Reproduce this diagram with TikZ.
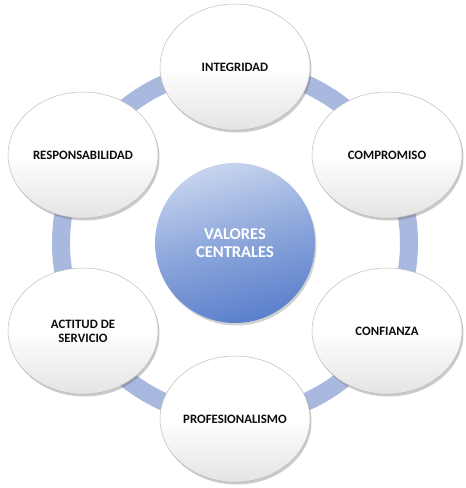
\documentclass[tikz,border=0pt]{standalone}
\usepackage{fontspec}
\setmainfont{Carlito}
\usetikzlibrary{shapes.geometric,shadows}
\definecolor{ringc}{HTML}{A9B8DE}
\definecolor{centtop}{HTML}{C6D4EE}
\definecolor{centmid}{HTML}{8CA6DB}
\definecolor{centbot}{HTML}{5A7FCC}
\definecolor{ellbot}{HTML}{E4E4E4}
\definecolor{ellline}{HTML}{BDBDBD}
\begin{document}
\begin{tikzpicture}[x=1pt,y=1pt,
  valor/.style={ellipse, minimum width=150pt, minimum height=126pt, inner sep=0pt,
    top color=white, bottom color=ellbot, middle color=white,
    draw=ellline, line width=0.5pt,
    drop shadow={shadow xshift=1.5pt, shadow yshift=-2.5pt, opacity=0.35, fill=black!60},
    font=\bfseries\fontsize{12.8}{14}\selectfont, text=black!95, align=center},
  centro/.style={circle, minimum size=160pt, inner sep=0pt,
    top color=centtop, bottom color=centbot, middle color=centmid, shading angle=15,
    drop shadow={shadow xshift=1.5pt, shadow yshift=-2.5pt, opacity=0.3, fill=black!60},
    font=\bfseries\fontsize{16.5}{17.5}\selectfont, text=white, align=center},
  anillo/.style={draw=ringc, line width=18pt}
]
\useasboundingbox (0,0) rectangle (466,488);
\coordinate (c) at (235,245);
\draw[anillo] (c) circle[radius=174pt];
\node[centro] (central) at (c) {VALORES\\CENTRALES};
\node[valor] (integridad) at (235,421) {INTEGRIDAD};
\node[valor] (compromiso) at (387,333) {COMPROMISO};
\node[valor] (confianza) at (387,157) {CONFIANZA};
\node[valor] (profesional) at (235,69) {PROFESIONALISMO};
\node[valor] (actitud) at (83,157) {ACTITUD DE\\SERVICIO};
\node[valor] (responsab) at (83,333) {RESPONSABILIDAD};
\end{tikzpicture}
\end{document}
